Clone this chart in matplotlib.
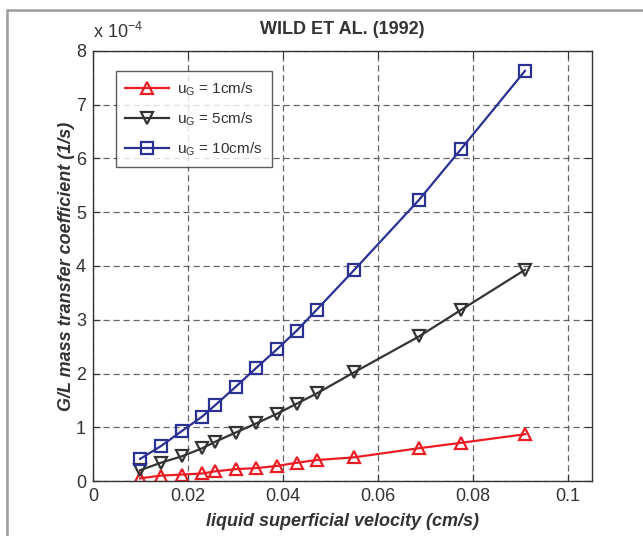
import numpy as np
import matplotlib
matplotlib.use('Agg')
import matplotlib.pyplot as plt
from matplotlib.patches import Rectangle
from matplotlib.ticker import FuncFormatter

plt.rcParams['font.family'] = ['Liberation Sans', 'DejaVu Sans']

# liquid superficial velocity (cm/s)
u_liq = [0.0099, 0.0143, 0.0187, 0.0230, 0.0257, 0.0300, 0.0343,
         0.0387, 0.0429, 0.0471, 0.0549, 0.0686, 0.0774, 0.0909]

# G/L mass transfer coefficient, in units of 1e-4 1/s
k_1cm = [0.05, 0.10, 0.12, 0.14, 0.18, 0.22, 0.24,
         0.28, 0.34, 0.39, 0.44, 0.61, 0.71, 0.87]
k_5cm = [0.20, 0.34, 0.46, 0.61, 0.73, 0.90, 1.07,
         1.25, 1.44, 1.63, 2.02, 2.69, 3.18, 3.93]
k_10cm = [0.41, 0.65, 0.93, 1.20, 1.41, 1.75, 2.10,
          2.45, 2.80, 3.19, 3.92, 5.23, 6.17, 7.63]

labels = ['u$_\\mathregular{G}$ = 1cm/s', 'u$_\\mathregular{G}$ = 5cm/s',
          'u$_\\mathregular{G}$ = 10cm/s']

fig = plt.figure(figsize=(6.43, 5.36), dpi=100)
fig.patches.append(Rectangle((7/643, -0.05), 1.2, (536-10)/536 + 0.05,
                             transform=fig.transFigure, fill=False,
                             edgecolor='#9a9a9a', linewidth=1.8))
ax = fig.add_axes([93/643, 55/536, 499/643, 430/536])

ax.plot(u_liq, k_1cm, '-^', color='#ec1c24', lw=1.6, ms=9, mew=1.6,
        mfc='none', label=labels[0])
ax.plot(u_liq, k_5cm, '-v', color='#333333', lw=1.6, ms=9, mew=1.6,
        mfc='none', label=labels[1])
ax.plot(u_liq, k_10cm, '-s', color='#2b3192', lw=1.6, ms=8, mew=1.6,
        mfc='none', label=labels[2])

ax.set_xlim(0, 0.105)
ax.set_ylim(0, 8)
ax.set_xticks(np.arange(0, 0.101, 0.02))
ax.set_yticks(range(0, 9))
ax.xaxis.set_major_formatter(FuncFormatter(lambda v, p: '%g' % round(v, 3)))
ax.tick_params(direction='in', top=True, right=True, length=5,
               labelsize=13, colors='#333333', pad=5)
for s in ax.spines.values():
    s.set_color('#333333')
    s.set_linewidth(1.0)
ax.grid(True, linestyle=(0, (5, 3)), color='#666666', lw=0.9)

ax.set_title('WILD ET AL. (1992)', fontsize=13, fontweight='bold',
             color='#333333', pad=12)
ax.set_xlabel('liquid superficial velocity (cm/s)', fontsize=13,
              fontweight='bold', style='italic', color='#333333', labelpad=6)
ax.set_ylabel('G/L mass transfer coefficient (1/s)', fontsize=13,
              fontweight='bold', style='italic', color='#333333', labelpad=1)
ax.text(0.0, 1.02, 'x 10$^\\mathregular{-4}$', transform=ax.transAxes,
        fontsize=13, color='#333333', ha='left', va='bottom')

leg = ax.legend(loc='upper left', bbox_to_anchor=(0.046, 0.953), fontsize=11,
                frameon=True, fancybox=False, borderpad=0.6, borderaxespad=0,
                handlelength=2.9, labelspacing=0.8, handletextpad=0.5)
leg.get_frame().set_edgecolor('#333333')
leg.get_frame().set_linewidth(1.0)
for t in leg.get_texts():
    t.set_color('#333333')

fig.savefig('out.png', dpi=100)
